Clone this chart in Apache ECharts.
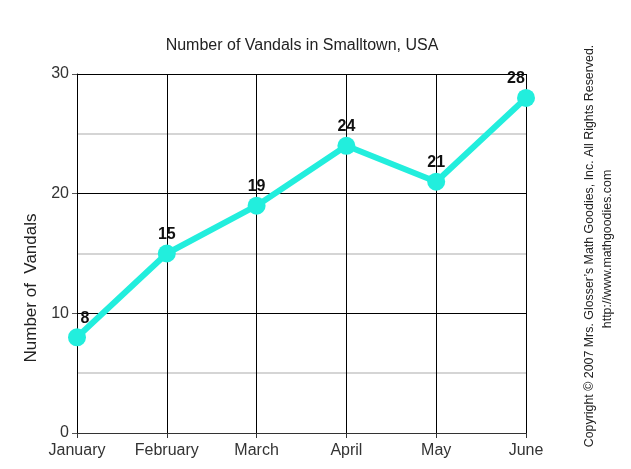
<!DOCTYPE html>
<html><head><meta charset="utf-8">
<script src="https://cdn.jsdelivr.net/npm/echarts@6/dist/echarts.min.js"></script>
<style>html,body{margin:0;padding:0;background:#fff}#c{width:631px;height:469px}</style>
</head><body><div id="c"></div>
<script>
const months = ['January','February','March','April','May','June'];
const vandals = [8, 15, 19, 24, 21, 28];
const yTicks = [0, 10, 20, 30];

const chart = echarts.init(document.getElementById('c'), null, {renderer:'canvas'});
const F = 'Liberation Sans, Arial, sans-serif';
const lastIdx = vandals.length - 1;
const seriesData = vandals.map((v, i) => {
  const item = {value: v};
  if (i === 0) item.label = {offset: [8, 0]};
  if (i === lastIdx) item.label = {offset: [-10, 0]};
  return item;
});
chart.setOption({
  animation:false,
  backgroundColor:'#fff',
  title:{text:'Number of Vandals in Smalltown, USA', left:297, top:33, textAlign:'center',
    textStyle:{fontFamily:F, fontSize:16, fontWeight:'normal', color:'#222'}},
  grid:{left:77, right:105, top:74, bottom:36, show:false},
  xAxis:{type:'category', data:months, boundaryGap:false,
    axisLine:{lineStyle:{color:'#333', width:1}},
    axisTick:{show:true, length:5, lineStyle:{color:'#333'}},
    axisLabel:{fontFamily:F, fontSize:16, color:'#333', margin:10},
    splitLine:{show:true, lineStyle:{color:'#000', width:1}}},
  yAxis:{type:'value', min:yTicks[0], max:yTicks[yTicks.length-1], interval:10,
    axisLine:{show:true, lineStyle:{color:'#000', width:1}},
    axisTick:{show:true, length:5, lineStyle:{color:'#555'}},
    axisLabel:{fontFamily:F, fontSize:16, color:'#333', margin:8},
    splitLine:{show:true, lineStyle:{color:'#000', width:1}},
    minorTick:{show:false, splitNumber:2},
    minorSplitLine:{show:true, lineStyle:{color:'#c8c8c8', width:1.5}}},
  graphic:[
    {type:'text', x:31, y:288, rotation:Math.PI/2, style:{text:'Number of  Vandals', font:'17px '+F, fill:'#222', align:'center', verticalAlign:'middle'}},
    {type:'text', x:590, y:246, rotation:Math.PI/2, style:{text:'Copyright \u00a9 2007 Mrs. Glosser\u2019s Math Goodies, Inc. All Rights Reserved.', font:'12.4px '+F, fill:'#222', align:'center', verticalAlign:'middle'}},
    {type:'text', x:608, y:249, rotation:Math.PI/2, style:{text:'http://www.mathgoodies.com', font:'12.4px '+F, fill:'#222', align:'center', verticalAlign:'middle'}}
  ],
  series:[{type:'line', data:seriesData, symbol:'circle', symbolSize:18,
    lineStyle:{color:'#22EEDD', width:6}, itemStyle:{color:'#22EEDD'},
    label:{show:true, position:'top', distance:2, fontFamily:F, fontSize:16, fontWeight:'bold', color:'#111'}}]
});
</script></body></html>
